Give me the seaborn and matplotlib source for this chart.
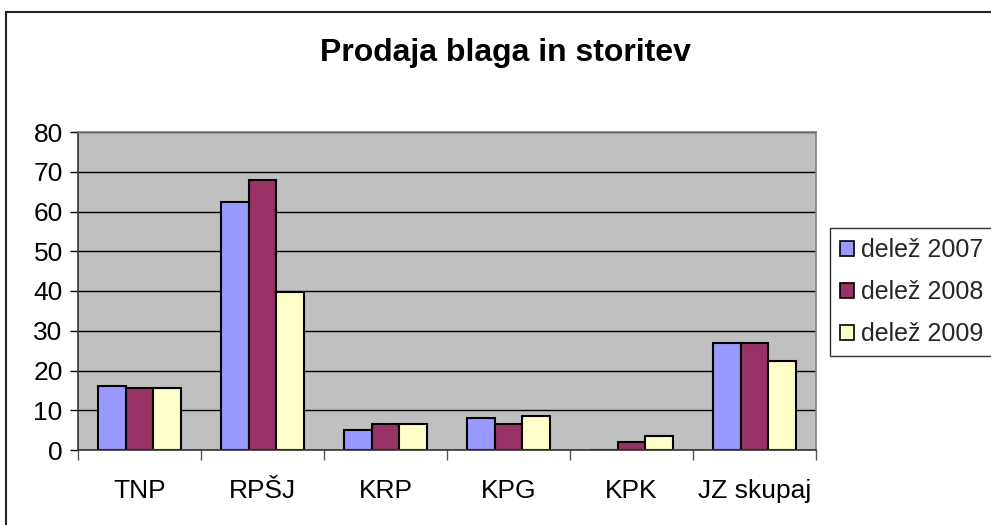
import matplotlib
matplotlib.use("Agg")
import matplotlib.pyplot as plt
import seaborn as sns
import pandas as pd
from matplotlib.patches import Rectangle

categories = ["TNP", "RPŠJ", "KRP", "KPG", "KPK", "JZ skupaj"]
delez_2007 = [16.1, 62.4, 5.0, 8.0, 0.0, 26.9]
delez_2008 = [15.6, 67.9, 6.5, 6.5, 2.0, 26.9]
delez_2009 = [15.6, 39.7, 6.5, 8.6, 3.5, 22.5]
series_names = ["delež 2007", "delež 2008", "delež 2009"]
colors = ["#9999FF", "#993366", "#FFFFCC"]
title = "Prodaja blaga in storitev"

rows = []
for name, vals in zip(series_names, [delez_2007, delez_2008, delez_2009]):
    for c, v in zip(categories, vals):
        rows.append({"cat": c, "series": name, "val": v})
df = pd.DataFrame(rows)

sns.set_theme(style="white")
plt.rcParams["font.family"] = ["Liberation Sans", "DejaVu Sans"]

W, H = 991, 525
fig = plt.figure(figsize=(W / 100, H / 100), dpi=100)
ax = fig.add_axes([78 / W, 1 - 450 / H, (816 - 78) / W, (450 - 132) / H])

sns.barplot(data=df, x="cat", y="val", hue="series", palette=colors,
            width=0.667, dodge=True, ax=ax, edgecolor="black", linewidth=1.5,
            saturation=1, legend=True, gap=0)

ax.set_facecolor("#C0C0C0")
ax.set_ylim(0, 80)
ax.set_xlim(-0.5, len(categories) - 0.5)
ax.set_yticks(range(0, 81, 10))
ax.yaxis.grid(True, color="black", linewidth=1)
ax.set_axisbelow(True)
ax.set_xlabel("")
ax.set_ylabel("")

ax.tick_params(axis="y", which="both", left=True, length=6, width=1, color="black",
               labelsize=19, pad=5, labelcolor="black")
ax.set_xticks(range(len(categories)))
ax.set_xticklabels(categories)
ax.tick_params(axis="x", which="major", bottom=False, labelsize=19, pad=15, labelcolor="black")
ax.set_xticks([i - 0.5 for i in range(len(categories) + 1)], minor=True)
ax.tick_params(axis="x", which="minor", bottom=True, length=7, width=1, color="#555555")

for s in ["left", "bottom"]:
    ax.spines[s].set_color("#333333")
    ax.spines[s].set_linewidth(1.2)
for s in ["top", "right"]:
    ax.spines[s].set_color("#808080")
    ax.spines[s].set_linewidth(1.2)

leg = ax.legend(loc="upper left", bbox_to_anchor=((830 - 78) / (816 - 78), 1 - (228 - 132) / (450 - 132)),
                fontsize=18, frameon=True, fancybox=False, edgecolor="black",
                handlelength=0.55, handleheight=0.55, handletextpad=0.3,
                labelspacing=0.72, borderpad=0.4, borderaxespad=0)
leg.get_frame().set_linewidth(1)
for h in leg.legend_handles:
    h.set_edgecolor("black")
    h.set_linewidth(1.2)

fig.text(505 / W, 1 - 53 / H, title, ha="center", va="center",
         fontsize=23, fontweight="bold", color="black")

fig.patches.append(Rectangle((6 / W, -0.1), 1.2, 1 - 12 / H + 0.1, transform=fig.transFigure,
                             fill=False, edgecolor="#222222", linewidth=1.5, zorder=0))

fig.savefig("out.png", dpi=100, facecolor="white")
